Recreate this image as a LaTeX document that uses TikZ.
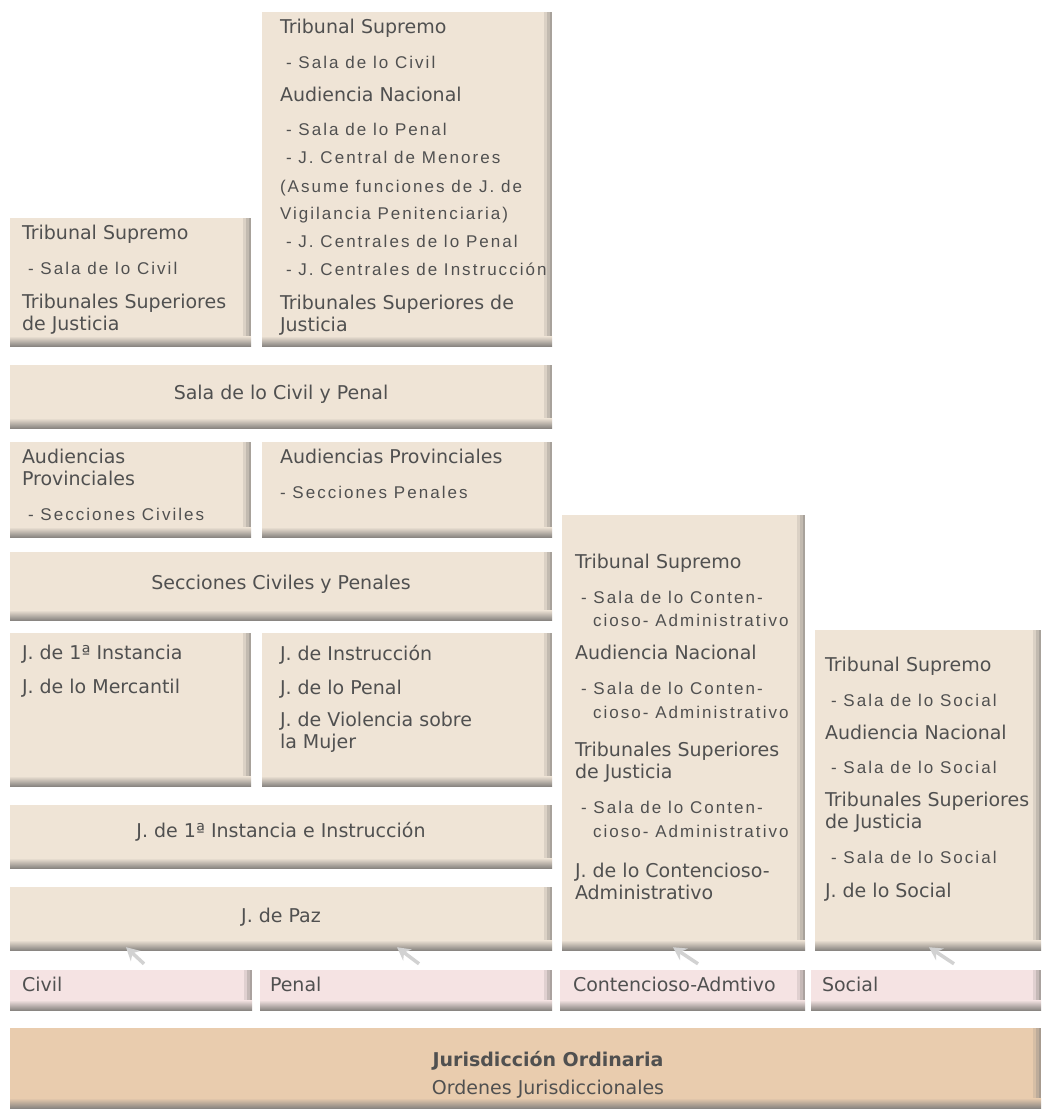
\documentclass[tikz,border=0pt]{standalone}
\usepackage{fontspec}
\setmainfont{DejaVu Sans}
\newfontfamily\spacedfont[LetterSpace=12]{Liberation Sans}
\usetikzlibrary{arrows.meta}

\definecolor{tilebeige}{RGB}{239,228,214}
\definecolor{tilepink}{RGB}{245,227,227}
\definecolor{tiletan}{RGB}{233,204,174}
\definecolor{shadowgray}{RGB}{138,134,130}
\definecolor{inkgray}{RGB}{80,80,80}

\newcommand{\spaced}[1]{{\spacedfont\fontsize{17}{22}\selectfont #1}}
\newcommand{\dashitem}[1]{\spaced{\hspace*{6pt}- #1}}

\begin{document}
\begin{tikzpicture}[x=1pt, y=-1pt,
  tile/.style={rectangle, inner sep=0pt, fill=#1, path picture={
      \fill[#1!80!shadowgray] ([xshift=-8pt]path picture bounding box.north east) rectangle (path picture bounding box.south east);
      \fill[#1!55!shadowgray] ([xshift=-5pt]path picture bounding box.north east) rectangle (path picture bounding box.south east);
      \fill[#1!30!shadowgray] ([xshift=-2.5pt]path picture bounding box.north east) rectangle (path picture bounding box.south east);
      \shade[top color=#1, bottom color=shadowgray]
        ([yshift=10pt]path picture bounding box.south west) rectangle (path picture bounding box.south east);
    }},
  tile/.default=tilebeige,
  txt/.style={anchor=north west, inner sep=0pt, align=left, text=inkgray, font=\fontsize{19}{22}\selectfont},
  mid/.style={inner sep=0pt, align=center, text=inkgray, font=\fontsize{19}{22}\selectfont},
  pointer/.style={-{Stealth[length=13pt,width=14pt]}, line width=3.5pt, draw=gray!35}]
\useasboundingbox (0,0) rectangle (1041,1113);

\node[tile, minimum width=241pt, minimum height=128pt] (tsCivil) at (130.5,282) {};
\node[tile, minimum width=290pt, minimum height=334pt] (tsPenal) at (407,179) {};
\node[tile, minimum width=542pt, minimum height=63pt] (salaCP) at (281,396.5) {};
\node[tile, minimum width=241pt, minimum height=95pt] (apCivil) at (130.5,489.5) {};
\node[tile, minimum width=290pt, minimum height=95pt] (apPenal) at (407,489.5) {};
\node[tile, minimum width=542pt, minimum height=68pt] (secCP) at (281,586) {};
\node[tile, minimum width=241pt, minimum height=153pt] (jCivil) at (130.5,709.5) {};
\node[tile, minimum width=290pt, minimum height=153pt] (jPenal) at (407,709.5) {};
\node[tile, minimum width=542pt, minimum height=63pt] (jInst) at (281,836.5) {};
\node[tile, minimum width=542pt, minimum height=63pt] (jPaz) at (281,918.5) {};
\node[tile, minimum width=243pt, minimum height=435pt] (contAdm) at (683.5,732.5) {};
\node[tile, minimum width=226pt, minimum height=320pt] (social) at (928,790) {};

\node[tile=tilepink, minimum width=242pt, minimum height=40pt] (civil) at (131,990) {};
\node[tile=tilepink, minimum width=292pt, minimum height=40pt] (penal) at (406,990) {};
\node[tile=tilepink, minimum width=245pt, minimum height=40pt] (contLbl) at (682.5,990) {};
\node[tile=tilepink, minimum width=230pt, minimum height=40pt] (socialLbl) at (926,990) {};
\node[tile=tiletan, minimum width=1031pt, minimum height=80pt] (ordinaria) at (525.5,1068) {};

\node[txt] (tsCivilTxt) at ([xshift=12pt,yshift=-7.5pt]tsCivil.north west) {Tribunal Supremo\\[13pt]
  \dashitem{Sala de lo Civil}\\[12pt]
  Tribunales Superiores\\de Justicia};
\node[txt] (tsPenalTxt) at ([xshift=18pt,yshift=-7.5pt]tsPenal.north west) {Tribunal Supremo\\[13pt]
  \dashitem{Sala de lo Civil}\\[11pt]
  Audiencia Nacional\\[12pt]
  \dashitem{Sala de lo Penal}\\[6pt]
  \dashitem{J. Central de Menores}\\[7pt]
  \spaced{(Asume funciones de J. de}\\[5pt]
  \spaced{Vigilancia Penitenciaria)}\\[6pt]
  \dashitem{J. Centrales de lo Penal}\\[6pt]
  \dashitem{J. Centrales de Instrucción}\\[12pt]
  Tribunales Superiores de\\Justicia};
\node[mid] (salaCPTxt) at ([yshift=2.5pt]salaCP.center) {Sala de lo Civil y Penal};
\node[txt] (apCivilTxt) at ([xshift=12pt,yshift=-7.5pt]apCivil.north west) {Audiencias\\Provinciales\\[13pt]
  \dashitem{Secciones Civiles}};
\node[txt] (apPenalTxt) at ([xshift=18pt,yshift=-7.5pt]apPenal.north west) {Audiencias Provinciales\\[13pt]
  \spaced{- Secciones Penales}};
\node[mid] (secCPTxt) at ([yshift=2pt]secCP.center) {Secciones Civiles y Penales};
\node[txt] (jCivilTxt) at ([xshift=12pt,yshift=-12.5pt]jCivil.north west) {J. de 1ª Instancia\\[12pt]
  J. de lo Mercantil};
\node[txt] (jPenalTxt) at ([xshift=18pt,yshift=-12pt]jPenal.north west) {J. de Instrucción\\[12pt]
  J. de lo Penal\\[10pt]
  J. de Violencia sobre\\la Mujer};
\node[mid] (jInstTxt) at ([yshift=4.5pt]jInst.center) {J. de 1ª Instancia e Instrucción};
\node[mid] (jPazTxt) at ([yshift=1.5pt]jPaz.center) {J. de Paz};
\node[txt] (contAdmTxt) at ([xshift=13pt,yshift=-39.5pt]contAdm.north west) {Tribunal Supremo\\[13pt]
  \dashitem{Sala de lo Conten-}\\[1pt]
  \spaced{\hspace*{18pt}cioso- Administrativo}\\[11pt]
  Audiencia Nacional\\[13pt]
  \dashitem{Sala de lo Conten-}\\[2pt]
  \spaced{\hspace*{18pt}cioso- Administrativo}\\[16pt]
  Tribunales Superiores\\de Justicia\\[13pt]
  \dashitem{Sala de lo Conten-}\\[2pt]
  \spaced{\hspace*{18pt}cioso- Administrativo}\\[18pt]
  J. de lo Contencioso-\\Administrativo};
\node[txt] (socialTxt) at ([xshift=10pt,yshift=-27.5pt]social.north west) {Tribunal Supremo\\[13pt]
  \dashitem{Sala de lo Social}\\[11pt]
  Audiencia Nacional\\[12pt]
  \dashitem{Sala de lo Social}\\[11pt]
  Tribunales Superiores\\de Justicia\\[13pt]
  \dashitem{Sala de lo Social}\\[12pt]
  J. de lo Social};

\node[mid, anchor=west] (civilTxt) at ([xshift=12pt,yshift=6pt]civil.west) {Civil};
\node[mid, anchor=west] (penalTxt) at ([xshift=10pt,yshift=6pt]penal.west) {Penal};
\node[mid, anchor=west] (contLblTxt) at ([xshift=13pt,yshift=6pt]contLbl.west) {Contencioso-Admtivo};
\node[mid, anchor=west] (socialLblTxt) at ([xshift=11pt,yshift=6pt]socialLbl.west) {Social};
\node[mid] (ordinariaTxt) at ([xshift=22.5pt,yshift=-7pt]ordinaria.center) {\textbf{Jurisdicción Ordinaria}\\[6pt]
  Ordenes Jurisdiccionales};

\draw[pointer] ([xshift=13pt,yshift=6pt]civil.north) -- ([xshift=-155pt,yshift=3pt]jPaz.south);
\draw[pointer] ([xshift=13pt,yshift=6pt]penal.north) -- ([xshift=116pt,yshift=3pt]jPaz.south);
\draw[pointer] ([xshift=15.5pt,yshift=6pt]contLbl.north) -- ([xshift=-10.5pt,yshift=3pt]contAdm.south);
\draw[pointer] ([xshift=28pt,yshift=6pt]socialLbl.north) -- ([xshift=1pt,yshift=3pt]social.south);
\end{tikzpicture}
\end{document}
